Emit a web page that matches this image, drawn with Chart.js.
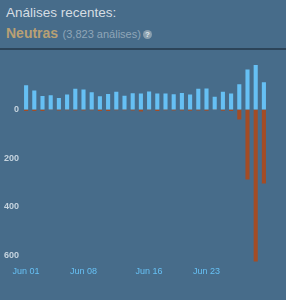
<!DOCTYPE html>
<html>
<head>
<meta charset="utf-8">
<script src="https://cdn.jsdelivr.net/npm/chart.js@4"></script>
<style>
  html, body { margin: 0; padding: 0; }
  body { width: 286px; height: 300px; background: #476c8a; position: relative; overflow: hidden; font-family: Arial, "Liberation Sans", sans-serif; }
  .title { position: absolute; left: 6px; top: 5px; font-size: 13.5px; color: #d6dde3; }
  .summary { position: absolute; left: 6px; top: 24px; white-space: nowrap; }
  .summary b { font-size: 14px; color: #b9a074; }
  .summary span { font-size: 11px; color: #8fa6b8; }
  .summary .help { display: inline-block; width: 9px; height: 9px; border-radius: 50%; background: #8a9fae; color: #dfe5ea; font-size: 8px; font-weight: bold; text-align: center; line-height: 9px; vertical-align: 1px; margin-left: 2px; }
  .rule { position: absolute; left: 0; top: 48px; width: 286px; height: 2px; background: #2c4459; }
  .chart-box { position: absolute; left: 0; top: 50px; width: 286px; height: 250px; }
</style>
</head>
<body>
<div class="title">Análises recentes:</div>
<div class="summary"><b>Neutras</b> <span>(3,823 análises)</span><span class="help">?</span></div>
<div class="rule"></div>
<div class="chart-box"><canvas id="reviewChart"></canvas></div>

<script>
// One bar per day of June
const days = ['Jun 01', 'Jun 02', 'Jun 03', 'Jun 04', 'Jun 05', 'Jun 06', 'Jun 07', 'Jun 08', 'Jun 09', 'Jun 10',
    'Jun 11', 'Jun 12', 'Jun 13', 'Jun 14', 'Jun 15', 'Jun 16', 'Jun 17', 'Jun 18', 'Jun 19', 'Jun 20',
    'Jun 21', 'Jun 22', 'Jun 23', 'Jun 24', 'Jun 25', 'Jun 26', 'Jun 27', 'Jun 28', 'Jun 29', 'Jun 30'];
const positiveReviews = [100, 78, 56, 59, 47, 62, 85, 82, 71, 55, 64, 73, 57, 67, 66, 74, 66, 66, 63, 68,
    62, 85, 86, 53, 73, 66, 104, 164, 183, 112];
// negative reviews plotted below zero
const negativeReviews = [-6, -6, -6, -2, -4, -3, -4, -4, -3, -6, -6, -3, -3, -4, -8, -3, -6, -3, -4, -4,
    -5, -4, -5, -2, -5, -6, -41, -287, -624, -304];
const shownDays = ['Jun 01', 'Jun 08', 'Jun 16', 'Jun 23'];
const yTicks = [0, -200, -400, -600];

const ctx = document.getElementById('reviewChart').getContext('2d');
new Chart(ctx, {
    type: 'bar',
    data: {
        labels: days,
        datasets: [{
            label: 'Positivas',
            data: positiveReviews,
            backgroundColor: '#66c0f4',
            barPercentage: 0.5,
            categoryPercentage: 1
        }, {
            label: 'Negativas',
            data: negativeReviews,
            backgroundColor: '#a34c25',
            barPercentage: 0.5,
            categoryPercentage: 1
        }]
    },
    options: {
        responsive: true,
        maintainAspectRatio: false,
        animation: false,
        layout: {
            padding: { top: 8, right: 18, bottom: 19, left: 0 }
        },
        plugins: {
            legend: { display: false },
            tooltip: { enabled: false }
        },
        scales: {
            x: {
                stacked: true,
                grid: { display: false, drawTicks: false },
                border: { display: false },
                ticks: {
                    autoSkip: false,
                    maxRotation: 0,
                    padding: 3,
                    color: '#66c0f4',
                    font: { size: 9, family: 'Arial, "Liberation Sans", sans-serif' },
                    callback: function(value) {
                        const lbl = this.getLabelForValue(value);
                        return shownDays.includes(lbl) ? lbl : '';
                    }
                },
                afterFit: scale => { scale.height = 18; }
            },
            y: {
                stacked: true,
                min: -630,
                max: 210,
                grid: { display: false, drawTicks: false },
                border: { display: false },
                afterBuildTicks: scale => { scale.ticks = yTicks.map(v => ({ value: v })); },
                afterFit: scale => { scale.width = 22; },
                ticks: {
                    padding: 3,
                    color: '#c6d4df',
                    font: { size: 9, weight: 'bold', family: 'Arial, "Liberation Sans", sans-serif' },
                    callback: value => Math.abs(value)
                }
            }
        }
    }
});
</script>
</body>
</html>
